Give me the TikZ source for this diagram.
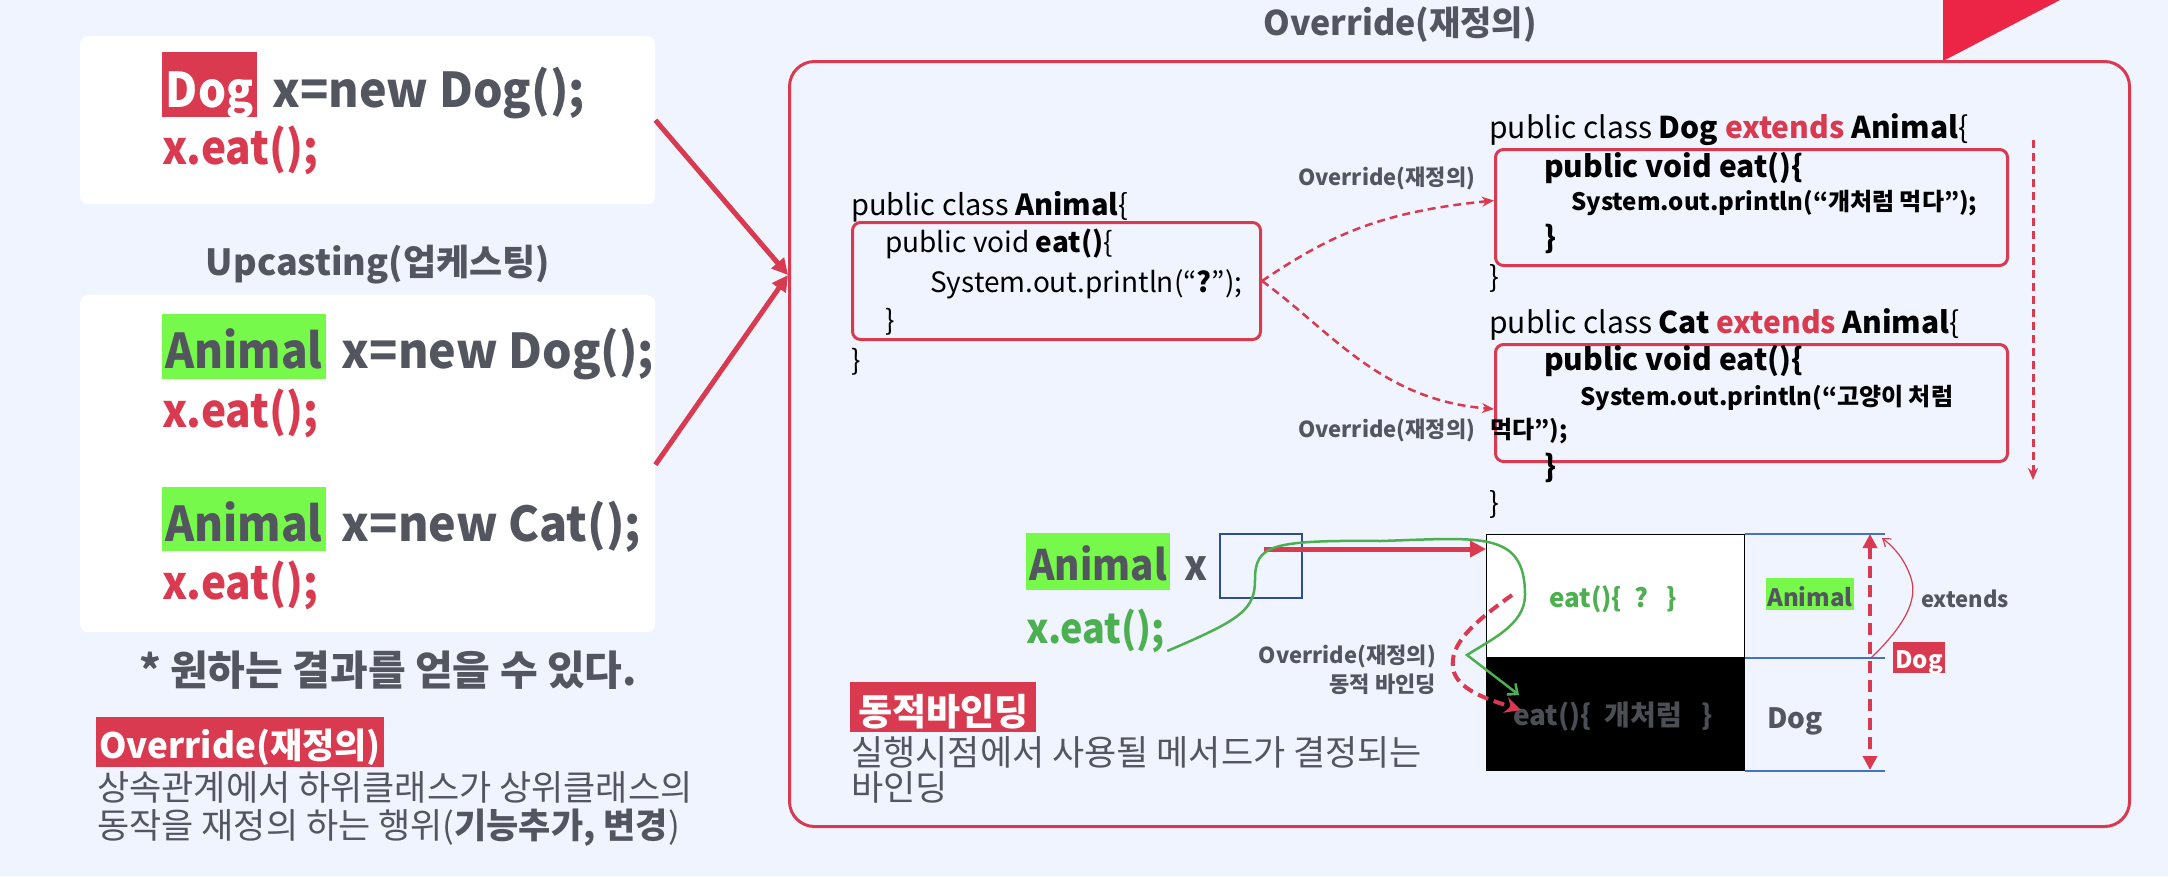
\documentclass[tikz,border=0pt]{standalone}
\usepackage{fontspec}
\setmainfont{Noto Sans CJK KR}
\newfontfamily\condfont{Noto Sans CJK KR}[FakeStretch=0.92]
\newfontfamily\declfont{Noto Sans CJK KR}[FakeStretch=0.97]
\usepackage{tikz}
\usetikzlibrary{arrows.meta,positioning}
\definecolor{bgblue}{HTML}{EFF4FF}
\definecolor{txtgray}{HTML}{53565F}
\definecolor{ovred}{HTML}{D93A50}
\definecolor{trired}{HTML}{EC2446}
\definecolor{hlgreen}{HTML}{77F94B}
\definecolor{codegreen}{HTML}{4CAF50}
\definecolor{boxblue}{HTML}{2F4E8F}
\definecolor{lineblue}{HTML}{4472C4}
\newcommand{\pxsize}[1]{\fontsize{#1}{#1}\selectfont}

\tikzset{
  txt/.style={anchor=base west, inner sep=0pt, text=txtgray},
  code/.style={anchor=base west, inner sep=0pt, text=black, font=\pxsize{28}},
  panel/.style={fill=white, rounded corners=8pt, anchor=north west, inner sep=0pt},
  redbox/.style={draw=ovred, line width=3pt, rounded corners=8pt, anchor=north west, inner sep=0pt},
  hlred/.style={anchor=base west, inner sep=0pt, inner xsep=3pt, fill=ovred, text=white},
  hlgreen/.style={anchor=base west, inner sep=0pt, inner xsep=3pt, fill=hlgreen, text=txtgray},
  bigarrow/.style={ovred, line width=5pt, -{Triangle[length=16pt,width=16pt]}},
  dashlink/.style={ovred, line width=2.5pt, dash pattern=on 8pt off 5pt, -{Stealth[length=12pt,width=10pt]}},
}

\begin{document}
\begin{tikzpicture}[x=1pt,y=-1pt]
  \fill[bgblue] (0,0) rectangle (2168,876);
  \useasboundingbox (0,0) rectangle (2168,876);

  % left side
  \node[panel, minimum width=575pt, minimum height=168pt] (boxA) at (80,36) {};
  \node[panel, minimum width=575pt, minimum height=337pt] (boxB) at (80,295) {};

  \node[hlred, minimum width=95pt, text height=55pt, text depth=10pt, font=\condfont\pxsize{48}\bfseries] (dogHl) at (162,107) {Dog};
  \node[txt, font=\declfont\pxsize{48}\bfseries] (declA) at ([xshift=15pt]dogHl.base east) {x=new Dog();};
  \node[txt, text=ovred, font=\condfont\pxsize{46}\bfseries] (callA) at (162,164) {x.eat();};

  \node[anchor=base, text=txtgray, font=\pxsize{36}\bfseries] (upTitle) at (378,275) {Upcasting(업케스팅)};

  \node[hlgreen, minimum width=159pt, text height=54pt, text depth=11pt, font=\condfont\pxsize{48}\bfseries] (anHlA) at (162,368) {Animal};
  \node[txt, font=\declfont\pxsize{48}\bfseries] (declB) at ([xshift=16pt]anHlA.base east) {x=new Dog();};
  \node[txt, text=ovred, font=\condfont\pxsize{46}\bfseries] (callB) at (162,427) {x.eat();};
  \node[hlgreen, minimum width=159pt, text height=54pt, text depth=10pt, font=\condfont\pxsize{48}\bfseries] (anHlB) at (162,541) {Animal};
  \node[txt, font=\declfont\pxsize{48}\bfseries] (declC) at ([xshift=16pt]anHlB.base east) {x=new Cat();};
  \node[txt, text=ovred, font=\condfont\pxsize{46}\bfseries] (callC) at (162,599) {x.eat();};

  \node[anchor=base, text=txtgray, font=\pxsize{41}\bfseries] (result) at (388,685) {* 원하는 결과를 얻을 수 있다.};

  \node[hlred, text height=41pt, text depth=9pt, font=\pxsize{35}\bfseries] (ovHl) at (96,758) {Override(재정의)};
  \node[txt, font=\pxsize{35}] (ovDescA) at (97,800) {상속관계에서 하위클래스가 상위클래스의};
  \node[txt, font=\pxsize{35}] (ovDescB) at (97,838) {동작을 재정의 하는 행위(\textbf{기능추가, 변경})};

  % right frame
  \node[anchor=base, text=txtgray, font=\pxsize{34}\bfseries] (frameTitle) at (1400,35) {Override(재정의)};
  \fill[trired] (1943,0) -- (2060,0) -- (1943,61) -- cycle;
  \node[draw=ovred, line width=3pt, rounded corners=25pt, anchor=north west, inner sep=0pt,
        minimum width=1340pt, minimum height=765pt] (frame) at (788,60) {};
  \coordinate (hit) at (788,275);
  \draw[bigarrow] (boxA.east) -- (hit);
  \draw[bigarrow] ([yshift=-1pt]boxB.east) -- (hit);

  % Animal
  \node[code, font=\pxsize{29}] (animHead) at (851,215) {public class \textbf{Animal}\{};
  \node[redbox, minimum width=408pt, minimum height=117pt] (animBox) at (851,221) {};
  \node[code] at (885,252) {public void \textbf{eat()}\{};
  \node[code] at (930,292) {System.out.println(“\textbf{?}”);};
  \node[code] at (885,330) {\}};
  \node[code] at (851,370) {\}};

  % Dog
  \node[code, font=\pxsize{30}] (dogHead) at (1489,138) {public class \textbf{Dog} \textcolor{ovred}{\textbf{extends}} \textbf{Animal}\{};
  \node[redbox, minimum width=512pt, minimum height=116pt] (dogBox) at (1494,148) {};
  \node[code, font=\pxsize{30}\bfseries] at (1544,177) {public void eat()\{};
  \node[code, font=\pxsize{24}\bfseries] at (1571,210) {System.out.println(“개처럼 먹다”);};
  \node[code, font=\pxsize{30}\bfseries] at (1544,248) {\}};
  \node[code, font=\pxsize{29}] at (1489,287) {\}};

  % Cat
  \node[code, font=\pxsize{30}] (catHead) at (1489,333) {public class \textbf{Cat} \textcolor{ovred}{\textbf{extends}} \textbf{Animal}\{};
  \node[redbox, minimum width=512pt, minimum height=117pt] (catBox) at (1494,343) {};
  \node[code, font=\pxsize{30}\bfseries] at (1544,370) {public void eat()\{};
  \node[code, font=\pxsize{24}\bfseries] at (1580,405) {System.out.println(“고양이 처럼};
  \node[code, font=\pxsize{24}\bfseries] at (1490,438) {먹다”);};
  \node[code, font=\pxsize{30}\bfseries] at (1544,477) {\}};
  \node[code, font=\pxsize{29}] at (1489,513) {\}};

  \node[txt, font=\pxsize{22}\bfseries] (ovLabA) at (1298,185) {Override(재정의)};
  \node[txt, font=\pxsize{22}\bfseries] (ovLabB) at (1298,437) {Override(재정의)};
  \draw[dashlink] (animBox.east) .. controls (1330,235) and (1380,212) .. ([yshift=7pt]dogBox.west);
  \draw[dashlink] (animBox.east) .. controls (1330,330) and (1380,400) .. ([yshift=-6pt]catBox.west);

  \coordinate (flowTop) at (2033,140);
  \coordinate (flowBot) at (2033,480);
  \draw[dashlink, line width=3pt] (flowTop) -- (flowBot);

  % memory
  \node[hlgreen, minimum width=142pt, text height=47pt, text depth=10pt, font=\condfont\pxsize{42}\bfseries] (varType) at (1026,580) {Animal};
  \node[txt, font=\condfont\pxsize{42}\bfseries] (varName) at (1184,580) {x};
  \node[draw=boxblue, line width=2pt, anchor=north west, inner sep=0pt,
        minimum width=82pt, minimum height=64pt] (xBox) at (1219,533) {};
  \node[txt, text=codegreen, font=\condfont\pxsize{41}\bfseries] (xCall) at (1026,643) {x.eat();};

  \node[fill=white, draw=black, line width=1pt, anchor=north west, inner sep=0pt,
        minimum width=258pt, minimum height=123pt] (animalMem) at (1486,534) {};
  \node[fill=black, draw=black, line width=1pt, anchor=north west, inner sep=0pt,
        minimum width=258pt, minimum height=113pt] (dogMem) at (1486,657) {};
  \node[txt, text=codegreen, font=\pxsize{26}\bfseries] at (1549,607) {eat()\{\ \ ?\ \ \ \}};
  \node[txt, text=txtgray!90!black, font=\pxsize{28}\bfseries] at (1513,725) {eat()\{\ \ 개처럼\ \ \ \}};

  \coordinate (xPtr) at (1264,549);
  \draw[ovred, line width=5pt, -{Triangle[length=16pt,width=16pt]}] (xPtr) -- (xPtr -| animalMem.west);

  \draw[codegreen, line width=2.5pt, -{Straight Barb[length=8pt,width=14pt]}]
    ([xshift=2pt,yshift=-8pt]xCall.base east) .. controls (1240,620) and (1255,610) .. (1255,580)
    .. controls (1255,545) and (1270,540) .. (1380,541)
    .. controls (1480,538) and (1525,530) .. (1525,595)
    .. controls (1525,625) and (1490,640) .. (1467,655) -- (1519,695);
  \draw[ovred, line width=4pt, dash pattern=on 11pt off 6pt, -{Stealth[length=16pt,width=16pt]}]
    (1512,595) .. controls (1470,625) and (1450,645) .. (1453,668)
    .. controls (1456,690) and (1490,700) .. (1521,710);
  \node[anchor=base east, inner sep=0pt, text=txtgray, font=\pxsize{22}\bfseries] (bindLabA) at (1436,663) {Override(재정의)};
  \node[anchor=base east, inner sep=0pt, text=txtgray, font=\pxsize{22}\bfseries] (bindLabB) at (1436,692) {동적 바인딩};

  \draw[lineblue, line width=1.5pt] (animalMem.north east) -- ++(140,0);
  \draw[lineblue, line width=1.5pt] (animalMem.south east) -- ++(140,0);
  \draw[lineblue, line width=1.5pt] (dogMem.south east) -- ++(140,0);
  \node[hlgreen, inner xsep=1pt, text height=28pt, text depth=4pt, font=\pxsize{24}\bfseries] (memAnimal) at (1766,606) {Animal};
  \node[txt, font=\pxsize{28}\bfseries] (memDog) at (1767,728) {Dog};
  \coordinate (spanTop) at (1870,534);
  \coordinate (spanBot) at (1870,770);
  \draw[ovred, line width=3.5pt, dash pattern=on 12pt off 7pt, {Triangle[length=14pt,width=14pt]}-{Triangle[length=14pt,width=14pt]}] (spanTop) -- (spanBot);
  \coordinate (extFrom) at (1871,658);
  \coordinate (extTo) at (1882,538);
  \draw[ovred, line width=1.2pt, -{Straight Barb[length=7pt,width=10pt]}] (extFrom) .. controls (1905,625) and (1918,600) .. (1911,578) .. controls (1905,560) and (1895,548) .. (extTo);
  \node[txt, font=\pxsize{22}\bfseries] (extLab) at (1921,607) {extends};
  \node[hlred, inner xsep=2pt, text height=26pt, text depth=5pt, font=\pxsize{24}\bfseries] (extDog) at (1893,668) {Dog};

  \node[hlred, minimum width=186pt, text height=43pt, text depth=7pt, font=\pxsize{37}\bfseries] (bindHl) at (850,725) {동적바인딩};
  \node[txt, font=\pxsize{35}] (bindDescA) at (851,765) {실행시점에서 사용될 메서드가 결정되는};
  \node[txt, font=\pxsize{35}] (bindDescB) at (851,800) {바인딩};
\end{tikzpicture}
\end{document}
